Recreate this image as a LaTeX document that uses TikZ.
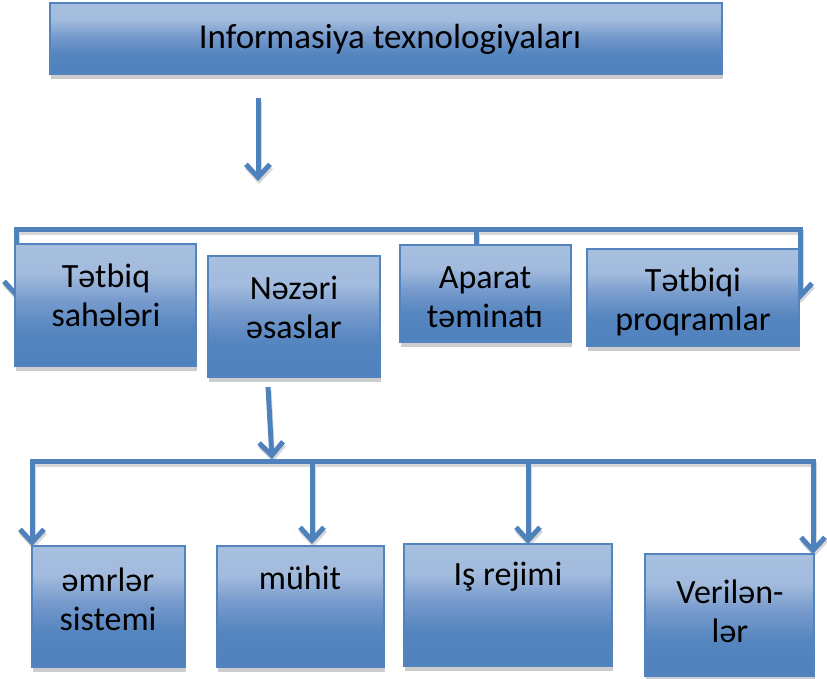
\documentclass[tikz,border=0pt]{standalone}
\usepackage{fontspec}
\setmainfont{Carlito}
\usetikzlibrary{arrows.meta,shadows}
\definecolor{lnblue}{RGB}{79,129,189}
\definecolor{bxborder}{RGB}{84,132,192}
\definecolor{bxlight}{RGB}{167,191,223}
\definecolor{bxmid}{RGB}{120,155,205}
\definecolor{bxdark}{RGB}{79,129,189}
\definecolor{shgray}{RGB}{205,205,205}
\definecolor{lnshade}{RGB}{215,215,215}
\pgfdeclareverticalshading{boxshade}{100bp}{color(0bp)=(bxdark); color(25bp)=(bxdark); color(40bp)=(bxdark!92!bxlight); color(52bp)=(bxmid); color(63bp)=(bxlight!90!bxmid); color(75bp)=(bxlight); color(100bp)=(bxlight)}
\tikzset{
  bx/.style={draw=bxborder, line width=1.6pt, shading=boxshade, rectangle, inner sep=0pt,
    drop shadow={shadow xshift=1pt, shadow yshift=-5pt, fill=shgray, opacity=1}},
  tx/.style={align=center, font=\fontsize{34}{39}\selectfont, text=black, inner sep=0pt},
  conn/.style={draw=lnblue, line width=5pt, line join=miter,
    preaction={draw=lnshade, line width=5pt, transform canvas={shift={(1pt,-3pt)}}}},
  tip/.style={-{Straight Barb[length=13pt,width=24pt,line width=5pt]}},
  tips/.style={{Straight Barb[length=13pt,width=24pt,line width=5pt]}-{Straight Barb[length=13pt,width=24pt,line width=5pt]}}
}
\begin{document}
\begin{tikzpicture}[x=1pt,y=-1pt]
\useasboundingbox (0,0) rectangle (827,678);
% coordinates for connectors
\coordinate (a0s) at (258,98);
\coordinate (a0e) at (258,181);
\coordinate (tl) at (16,298);
\coordinate (tlc) at (16,229);
\coordinate (trc) at (800,229);
\coordinate (tr) at (800,300);
\coordinate (tm) at (476,229);
\coordinate (a1s) at (268,387);
\coordinate (a1e) at (272,459);
\coordinate (bl) at (32,546);
\coordinate (blc) at (32,461);
\coordinate (brc) at (813,461);
\coordinate (br) at (813,554);
\coordinate (bm1) at (312,461);
\coordinate (bm2) at (528,461);
% connectors
\draw[conn,tip] (a0s) -- (a0e);
\draw[conn,tips] (tl) -- (tlc) -- (trc) -- (tr);
\draw[conn] (tm) -- (476,245);
\draw[conn,tip] (a1s) -- (a1e);
\draw[conn,tips] (bl) -- (blc) -- (brc) -- (br);
\draw[conn,tip] (bm1) -- (312,544);
\draw[conn,tip] (bm2) -- (528,544);
% boxes
\node[bx, minimum width=672pt, minimum height=71pt] (top) at (386,38.5) {};
\node[bx, minimum width=181pt, minimum height=122pt] (b1) at (105.5,305) {};
\node[bx, minimum width=172pt, minimum height=121pt] (b2) at (294,316.5) {};
\node[bx, minimum width=171pt, minimum height=97pt] (b3) at (485.5,293.5) {};
\node[bx, minimum width=212pt, minimum height=97pt] (b4) at (693,297.5) {};
\node[bx, minimum width=153pt, minimum height=121pt] (c1) at (108.5,606.5) {};
\node[bx, minimum width=167pt, minimum height=121pt] (c2) at (300.5,606.5) {};
\node[bx, minimum width=208pt, minimum height=122pt] (c3) at (508,605) {};
\node[bx, minimum width=169pt, minimum height=122pt] (c4) at (729.5,615) {};
% texts
\node[tx, font=\fontsize{35}{40}\selectfont] (ttop) at (390,39) {Informasiya texnologiyaları};
\node[tx] (tb1) at (106,295) {Tətbiq\\sahələri};
\node[tx] (tb2) at (294,307) {Nəzəri\\əsaslar};
\node[tx] (tb3) at (485,297) {Aparat\\təminatı};
\node[tx] (tb4) at (693,302) {Tətbiqi\\proqramlar};
\node[tx] (tc1) at (108,599) {əmrlər\\sistemi};
\node[tx] (tc2) at (300,578) {mühit};
\node[tx] (tc3) at (508,577) {Iş rejimi};
\node[tx] (tc4) at (730,611) {Verilən-\\lər};
\end{tikzpicture}
\end{document}
